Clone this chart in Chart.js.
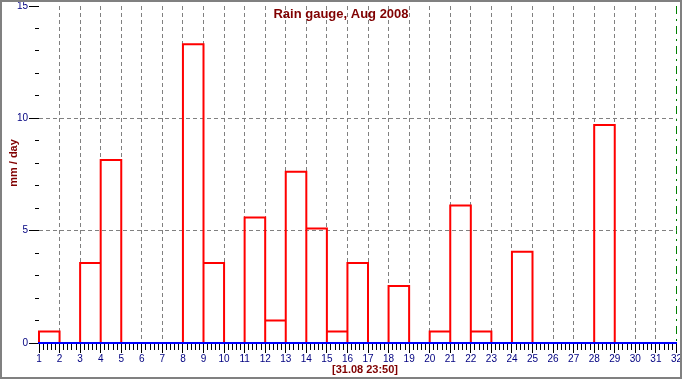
<!DOCTYPE html>
<html><head><meta charset="utf-8">
<script src="https://cdn.jsdelivr.net/npm/chart.js@4.4.1/dist/chart.umd.min.js"></script>
<style>
html,body{margin:0;padding:0;background:#fff;}
#wrap{position:relative;width:682px;height:380px;overflow:hidden;background:#fff;}
#frame{position:absolute;left:0;top:0;width:678px;height:375px;border:2px solid #808080;pointer-events:none;}
canvas{position:absolute;left:0;top:0;}
</style></head><body>
<div id="wrap"><canvas id="c" width="682" height="380"></canvas><div id="frame"></div></div>
<script>
// ---- data ----
const days = [1,2,3,4,5,6,7,8,9,10,11,12,13,14,15,16,17,18,19,20,21,22,23,24,25,26,27,28,29,30,31];
const rain = [0.51,0,3.56,8.15,0,0,0,13.3,3.56,0,5.59,1.0,7.62,5.1,0.51,3.56,0,2.54,0,0.51,6.12,0.51,0,4.06,0,0,0,9.7,0,0,0];
const xMin = 1, xMax = 32;
const yMin = 0, yMax = 15, yMajorStep = 5, yMinorStep = 1, xMinorStep = 0.2;
const chartTitle = 'Rain gauge, Aug 2008';
const yTitle = 'mm / day';
const timeStamp = '[31.08 23:50]';

// bar outlines as one broken line: each day spans [day, day+1]
const outline = [];
days.forEach((d, i) => {
  const v = rain[i];
  if (v > 0) {
    outline.push({x: d, y: 0}, {x: d, y: v}, {x: d + 1, y: v}, {x: d + 1, y: 0}, {x: d + 1, y: null});
  }
});

const NAVY = '#000080', DRED = '#800000', GRID = '#808080';
const tickFont = {family: '"Liberation Sans Narrow","Liberation Sans",Arial,sans-serif', size: 10, lineHeight: 1};
const clear = 'rgba(0,0,0,0)';

const textPlugin = {
  id: 'texts',
  afterDraw(chart) {
    const ctx = chart.ctx;
    ctx.save();
    ctx.fillStyle = DRED;
    ctx.textAlign = 'center';
    ctx.textBaseline = 'alphabetic';
    ctx.font = 'bold 13px "Liberation Sans",Arial,sans-serif';
    ctx.fillText(chartTitle, 341, 18);
    ctx.font = 'bold 11px "Liberation Sans",Arial,sans-serif';
    ctx.fillText(timeStamp, 365, 373);
    ctx.translate(17, 163);
    ctx.rotate(-Math.PI / 2);
    ctx.fillText(yTitle, 0, 0);
    ctx.restore();
  }
};

new Chart(document.getElementById('c'), {
  type: 'line',
  data: {
    datasets: [{
      data: outline,
      borderColor: '#ff0000',
      borderWidth: 2,
      pointRadius: 0,
      tension: 0,
      fill: false,
      spanGaps: false,
      clip: false,
      borderJoinStyle: 'miter',
      xAxisID: 'x',
      yAxisID: 'y'
    }]
  },
  options: {
    responsive: false,
    animation: false,
    events: [],
    layout: {padding: {left: 0, right: 5, top: 0, bottom: 0}},
    plugins: {legend: {display: false}, tooltip: {enabled: false}, title: {display: false}},
    scales: {
      x: {
        type: 'linear', position: 'bottom', weight: 1,
        min: xMin, max: xMax,
        ticks: {stepSize: 1, autoSkip: false, maxRotation: 0, color: NAVY, font: {...tickFont, lineHeight: 1.2}, padding: 0},
        grid: {
          color: (c) => (c.tick && (c.tick.value === xMin || c.tick.value === xMax)) ? clear : GRID,
          tickColor: '#000', tickLength: 10, tickBorderDash: [], lineWidth: 1
        },
        border: {display: true, color: '#0000ff', width: 2, dash: [4, 3], z: 1},
        afterFit: (s) => { s.height = 37; }
      },
      xMinor: {
        type: 'linear', position: 'bottom', weight: 0,
        min: xMin, max: xMax,
        ticks: {stepSize: xMinorStep, autoSkip: false, display: false},
        grid: {drawOnChartArea: false, tickColor: '#000', tickLength: 7, tickBorderDash: []},
        border: {display: false},
        afterFit: (s) => { s.height = 0; }
      },
      xEnd: {
        type: 'linear', position: 'bottom', weight: 0,
        min: xMin, max: xMax,
        ticks: {display: false},
        afterBuildTicks: (s) => { s.ticks = [{value: xMax}]; },
        grid: {drawTicks: false, color: '#008000', lineWidth: 1},
        border: {display: false, dash: [8, 5, 2, 5]},
        afterFit: (s) => { s.height = 0; }
      },
      y: {
        type: 'linear', position: 'left', weight: 1,
        min: yMin, max: yMax,
        ticks: {stepSize: yMajorStep, color: NAVY, font: tickFont, padding: 1},
        grid: {
          color: (c) => (c.tick && c.tick.value > yMin && c.tick.value < yMax) ? GRID : clear,
          tickColor: '#000', tickLength: 10, tickBorderDash: [], lineWidth: 1
        },
        border: {display: false, dash: [4, 3]},
        afterFit: (s) => { s.width = 39; }
      },
      yMinor: {
        type: 'linear', position: 'left', weight: 0,
        min: yMin, max: yMax,
        ticks: {stepSize: yMinorStep, display: false},
        grid: {drawOnChartArea: false, tickColor: '#000', tickLength: 4, tickBorderDash: []},
        border: {display: false},
        afterFit: (s) => { s.width = 0; }
      }
    }
  },
  plugins: [textPlugin]
});
</script>
</body></html>
